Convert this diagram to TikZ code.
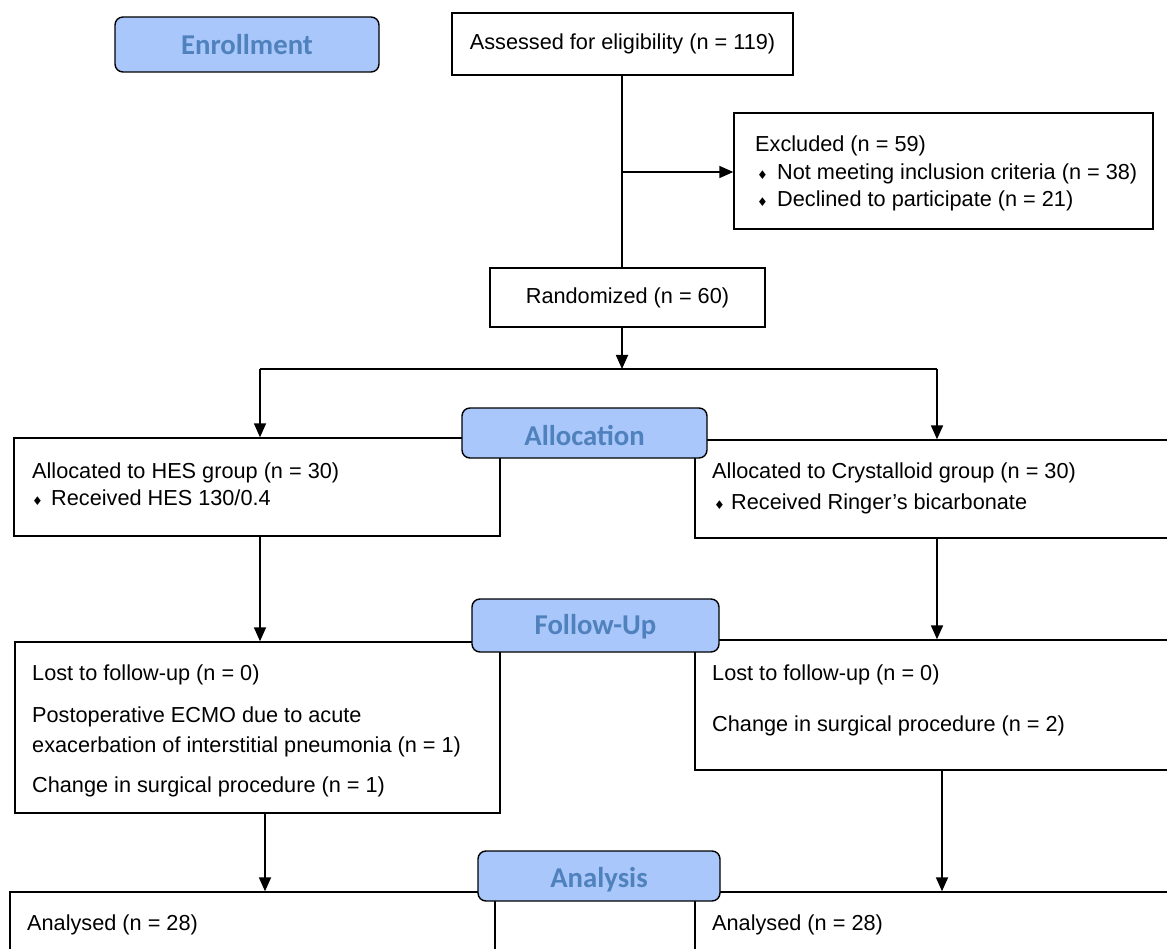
\documentclass[tikz,border=0pt]{standalone}
\usepackage{fontspec}
\setmainfont{Liberation Sans}
\newfontfamily\carl{Carlito}
\newfontfamily\djv{DejaVu Sans}
\usetikzlibrary{arrows.meta}
\definecolor{stagefill}{RGB}{169,199,250}
\definecolor{stagetext}{RGB}{79,129,189}
\newcommand{\dmd}[1][20pt]{\makebox[#1][l]{\djv\fontsize{12}{12}\selectfont ♦}}
\begin{document}
\begin{tikzpicture}[x=1pt,y=-1pt,
  box/.style={draw, line width=1.4pt, inner sep=0pt, rectangle, font=\fontsize{21.7}{25}\selectfont},
  stage/.style={draw, line width=1.4pt, rounded corners=8pt, fill=stagefill, text=stagetext, font=\carl\bfseries\fontsize{28.7}{30}\selectfont, inner sep=0pt, text height=18.5pt, text depth=0pt},
  txt/.style={anchor=base west, inner sep=0pt, font=\fontsize{21.7}{25}\selectfont},
  conn/.style={line width=1.8pt},
  arr/.style={conn, -{Triangle[length=14pt,width=12pt]}},
]
\useasboundingbox (0,0) rectangle (1167,949);
\clip (0,0) rectangle (1167,949);

% boxes
\node[box, minimum width=341pt, minimum height=62pt] (assess) at (622.5,44) {\raisebox{-1.5pt}{Assessed for eligibility (n = 119)}};
\node[box, minimum width=419pt, minimum height=116pt] (excl) at (943.5,171) {};
\node[box, minimum width=275pt, minimum height=59pt] (rand) at (627.5,297.5) {\raisebox{-1pt}{Randomized (n = 60)}};
\node[box, minimum width=486pt, minimum height=98pt] (hes) at (257,487) {};
\node[box, minimum width=495pt, minimum height=98pt] (cryst) at (942.5,489) {};
\node[box, minimum width=485pt, minimum height=171pt] (fl) at (257.5,727.5) {};
\node[box, minimum width=495pt, minimum height=130pt] (fr) at (942.5,705) {};
\node[box, minimum width=485pt, minimum height=88pt] (bl) at (252.5,936) {};
\node[box, minimum width=495pt, minimum height=88pt] (br) at (942.5,936) {};

% coordinates for connectors
\coordinate (j1) at (622,172);
\coordinate (sp) at (622,369);
\coordinate (sl) at (260,369);
\coordinate (sr) at (937,369);
\coordinate (al) at (265,0);
\coordinate (ar) at (942,0);

% connectors
\draw[conn] (sp |- assess.south) -- (sp |- rand.north);
\draw[arr] (j1) -- (j1 -| excl.west);
\draw[arr] (sp |- rand.south) -- (sp);
\draw[conn] (sl) -- (sr);
\draw[arr] (sl) -- (sl |- hes.north);
\draw[arr] (sr) -- (sr |- cryst.north);
\draw[arr] (sl |- hes.south) -- (sl |- fl.north);
\draw[arr] (sr |- cryst.south) -- (sr |- fr.north);
\draw[arr] (al |- fl.south) -- (al |- bl.north);
\draw[arr] (ar |- fr.south) -- (ar |- br.north);

% texts
\node[txt] (e1) at (755,152) {Excluded (n = 59)};
\node[txt] (e2) at (757,180) {\dmd[20pt]Not meeting inclusion criteria (n = 38)};
\node[txt] (e3) at (757,207) {\dmd[20pt]Declined to participate (n = 21)};

\node[txt] (h1) at (32,478) {Allocated to HES group (n = 30)};
\node[txt] (h2) at (32,505) {\dmd[19pt]Received HES 130/0.4};

\node[txt] (c1) at (712,478) {Allocated to Crystalloid group (n = 30)};
\node[txt] (c2) at (714,509) {\dmd[17pt]Received Ringer’s bicarbonate};

\node[txt] (f1) at (32,680) {Lost to follow-up (n = 0)};
\node[txt] (f2) at (32,722) {Postoperative ECMO due to acute};
\node[txt] (f3) at (32,752) {exacerbation of interstitial pneumonia (n = 1)};
\node[txt] (f4) at (32,792) {Change in surgical procedure (n = 1)};

\node[txt] (g1) at (712,680) {Lost to follow-up (n = 0)};
\node[txt] (g2) at (712,731) {Change in surgical procedure (n = 2)};

\node[txt] (b1) at (27,930) {Analysed (n = 28)};
\node[txt] (b2) at (712,930) {Analysed (n = 28)};

% stage labels
\node[stage, minimum width=264pt, minimum height=55pt] (enroll) at (247,44.5) {\raisebox{-1pt}{Enrollment}};
\node[stage, minimum width=245pt, minimum height=50pt] (alloc) at (584.5,433) {\raisebox{-3.5pt}{Allocation}};
\node[stage, minimum width=247pt, minimum height=53pt] (fu) at (595.5,625.5) {Follow-Up};
\node[stage, minimum width=242pt, minimum height=50pt] (an) at (599,876) {\raisebox{-2.5pt}{Analysis}};
\end{tikzpicture}
\end{document}
